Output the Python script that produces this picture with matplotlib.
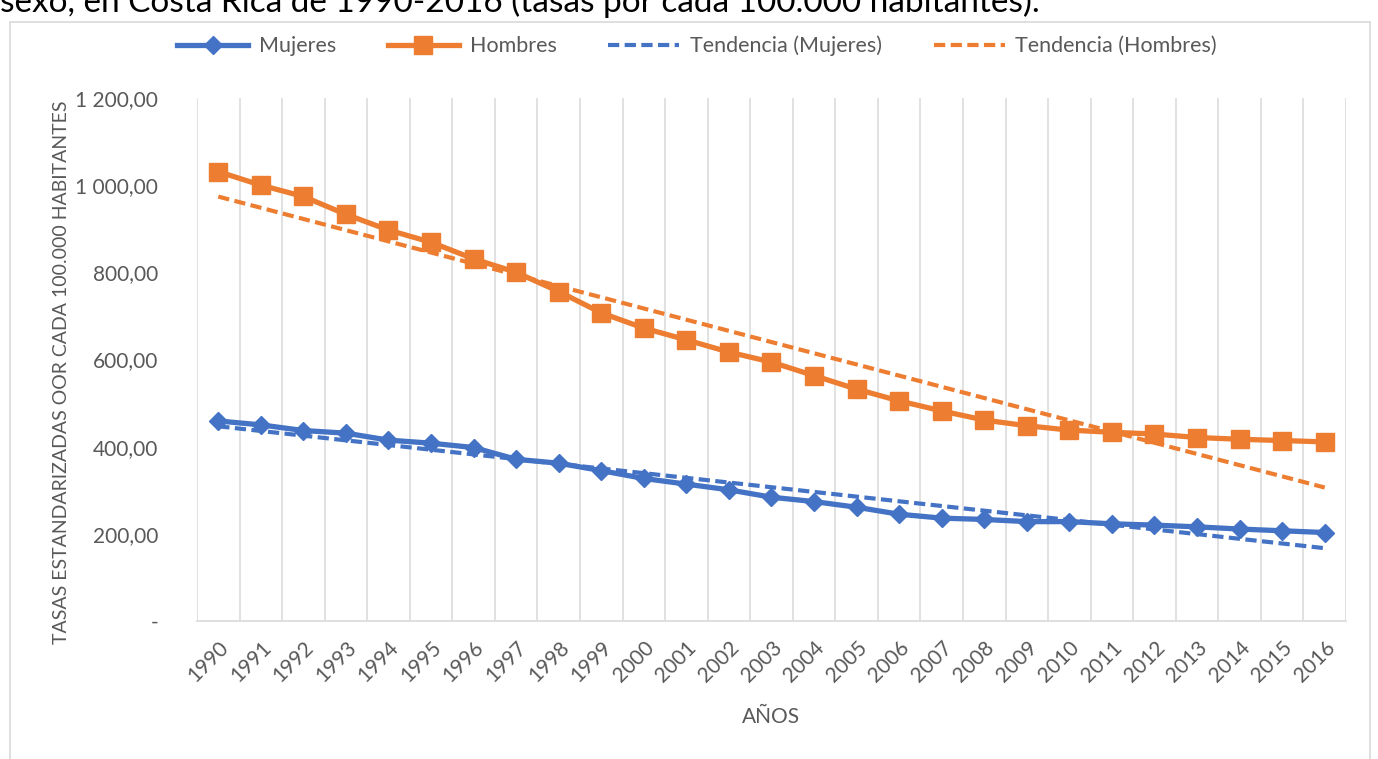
import numpy as np
import matplotlib
matplotlib.use("Agg")
import matplotlib.pyplot as plt
from matplotlib.patches import Rectangle
from matplotlib.ticker import FuncFormatter, FixedLocator

plt.rcParams['font.family'] = ['Lato', 'DejaVu Sans']

# Tasas estandarizadas por cada 100.000 habitantes, por sexo
years = [str(y) for y in range(1990, 2017)]
mujeres = [459, 450, 437, 431, 415, 408, 398, 371, 362, 345, 327, 314, 301, 284,
           274, 261, 245, 236, 233, 228, 228, 223, 220, 216, 211, 207, 203]
hombres = [1031, 1000, 974, 933, 897, 869, 831, 800, 756, 707, 672, 645, 617, 594,
           563, 532, 505, 482, 461, 448, 438, 433, 429, 421, 417, 414, 411]

title_text = "sexo, en Costa Rica de 1990-2016 (tasas por cada 100.000 habitantes)."
y_label = "TASAS ESTANDARIZADAS OOR CADA 100.000 HABITANTES"
x_label = "AÑOS"
y_ticks = [0, 200, 400, 600, 800, 1000, 1200]

BLUE = "#4472C4"
ORANGE = "#ED7D31"
GRID = "#D9D9D9"
TXT = "#595959"

W, H = 1378, 759
fig = plt.figure(figsize=(W / 100, H / 100), dpi=100)

# chart frame
fig.patches.append(Rectangle((10 / W, -0.02), 1360 / W, 1 - 22 / H + 0.02,
                             transform=fig.transFigure, fill=False,
                             edgecolor=GRID, linewidth=1.2))

# heading line, partly above the canvas
fig.text(0.0, 1 - 12 / H, title_text, fontsize=24, color="black",
         ha="left", va="baseline")

left, right, top, bottom = 197, 1346, 98, 621
ax = fig.add_axes([left / W, 1 - bottom / H, (right - left) / W, (bottom - top) / H])

x = np.arange(len(years))

ln_m, = ax.plot(x, mujeres, color=BLUE, lw=3.8, marker="D", markersize=9.5,
                label="Mujeres", zorder=4, solid_joinstyle="round")
ln_h, = ax.plot(x, hombres, color=ORANGE, lw=3.8, marker="s", markersize=12.5,
                label="Hombres", zorder=4, solid_joinstyle="round")

# linear trend lines (least squares over the series)
xi = x + 1
pm = np.polyfit(xi, mujeres, 1)
ph = np.polyfit(xi, hombres, 1)
tr_m, = ax.plot(x, np.polyval(pm, xi), color=BLUE, lw=3.0,
                linestyle=(0, (2.7, 1.3)), label="Tendencia (Mujeres)", zorder=3)
tr_h, = ax.plot(x, np.polyval(ph, xi), color=ORANGE, lw=3.0,
                linestyle=(0, (2.7, 1.3)), label="Tendencia (Hombres)", zorder=3)

ax.set_xlim(-0.5, len(years) - 0.5)
ax.set_ylim(0, 1200)

# vertical gridlines between categories
for b in np.arange(-0.5, len(years), 1.0):
    ax.axvline(b, color=GRID, lw=1.1, zorder=1)

for s in ["top", "right", "left"]:
    ax.spines[s].set_visible(False)
ax.spines["bottom"].set_color(GRID)
ax.spines["bottom"].set_linewidth(1.2)

ax.set_xticks(x)
ax.set_xticklabels(years, rotation=45, ha="right", va="top",
                   rotation_mode="anchor", fontsize=15, color=TXT)
ax.tick_params(axis="x", length=0, pad=12)

def fmt(v, pos):
    if v == 0:
        return "-"
    s = f"{v:,.2f}"
    return s.replace(",", " ").replace(".", ",")

ax.yaxis.set_major_locator(FixedLocator(y_ticks))
ax.yaxis.set_major_formatter(FuncFormatter(fmt))
ax.tick_params(axis="y", length=0, pad=28, labelsize=15, labelcolor=TXT)

ax.set_xlabel(x_label, fontsize=15, color=TXT, labelpad=15)
fig.text(62 / W, 1 - 372 / H, y_label, rotation=90, fontsize=14, color=TXT,
         ha="center", va="center")

fig.legend(handles=[ln_m, ln_h, tr_m, tr_h], loc="center",
           bbox_to_anchor=(697 / W, 1 - 46 / H), ncol=4, frameon=False,
           fontsize=15.5, handlelength=3.3, handletextpad=0.5,
           columnspacing=2.4, labelcolor=TXT)

fig.savefig("out.png", dpi=100)
